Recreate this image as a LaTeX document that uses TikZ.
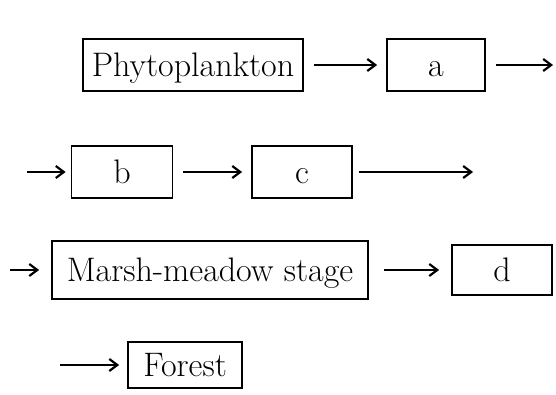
\documentclass[tikz,border=0pt]{standalone}
\usepackage{tikz}
\usetikzlibrary{arrows.meta,positioning}
\tikzset{
  box/.style={draw, line width=1.8pt, inner sep=0pt, minimum height=52pt,
    text height=29pt, text depth=6pt, font=\fontsize{34}{40}\selectfont},
  >={Straight Barb[length=8pt,width=12pt,line width=2.2pt]},
  link/.style={->, line width=2.2pt, shorten <=10pt, shorten >=9pt},
  lead/.style={->, line width=2.2pt, shorten >=8pt}
}

\begin{document}
\begin{tikzpicture}[x=1pt, y=-1pt]
		\useasboundingbox (0,0) rectangle (556,394);
		% first row
		\node(P)[box, minimum width=220pt] at (193,65){Phytoplankton};
		\node(a)[box, minimum width=98pt, right of=P, node distance=243pt]{a};
		\coordinate(r1) at (553,65);
		\draw[link](P) -- (a);
		\draw[link, shorten >=0pt](a) -- (r1);
		% second row
		\node(b)[box, minimum width=101pt] at (122,172){b};
		\node(c)[box, minimum width=100pt, right of=b, node distance=180pt]{c};
		\coordinate(l2) at (27,172);
		\coordinate(r2) at (473,172);
		\draw[lead, shorten >=5pt](l2) -- (b);
		\draw[link](b) -- (c);
		\draw[link, shorten <=6pt, shorten >=0pt](c) -- (r2);
		% third row
		\node(M)[box, minimum width=316pt, minimum height=58pt] at (210,270){Marsh-meadow stage};
		\node(d)[box, minimum width=100pt, minimum height=50pt, right of=M, node distance=292pt]{d};
		\coordinate(l3) at (10,270);
		\draw[lead, shorten >=12pt](l3) -- (M);
		\draw[link, shorten <=15pt, shorten >=12pt](M) -- (d);
		% fourth row
		\node(F)[box, minimum width=114pt, minimum height=46pt] at (185,365){Forest};
		\coordinate(l4) at (60,365);
		\draw[lead](l4) -- (F);
	\end{tikzpicture}
\end{document}
